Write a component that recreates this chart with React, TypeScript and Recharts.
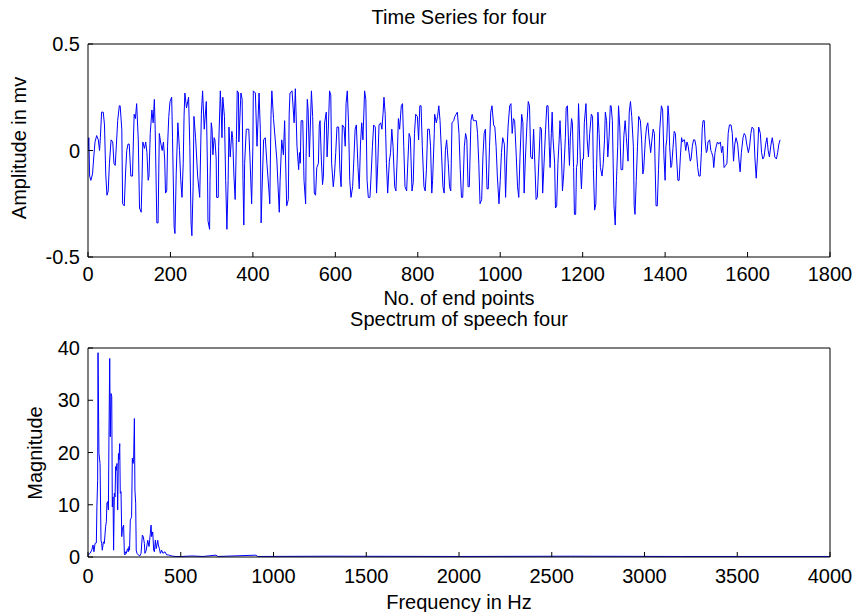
import { LineChart, Line, XAxis, YAxis } from "recharts";

// speech "four": sample index vs amplitude (mv)
const sampleIdx = [
  0, 2, 4, 7, 11, 14, 17, 21, 25, 28, 30, 33, 37, 40, 43, 46, 49, 52, 56, 60, 63, 66, 69, 72, 76, 78, 82, 84, 88, 91,
  94, 97, 100, 104, 108, 110, 112, 115, 118, 122, 125, 129, 131, 133, 137, 140, 143, 146, 148, 151, 155, 158, 161, 163, 167, 170, 173, 176, 180, 183,
  186, 188, 191, 193, 196, 199, 203, 205, 209, 211, 214, 218, 222, 225, 228, 231, 233, 235, 239, 244, 247, 250, 252, 255, 257, 261, 266, 271, 275, 278,
  282, 287, 290, 291, 295, 296, 299, 301, 303, 306, 308, 311, 312, 316, 317, 321, 323, 325, 327, 331, 334, 337, 340, 342, 345, 349, 351, 354, 357, 360,
  362, 365, 366, 371, 374, 376, 378, 380, 384, 390, 393, 397, 400, 401, 406, 410, 415, 418, 420, 422, 426, 430, 434, 439, 441, 444, 446, 450, 458, 464,
  466, 470, 474, 477, 482, 486, 488, 490, 495, 500, 503, 507, 511, 513, 515, 517, 521, 524, 528, 529, 532, 534, 537, 542, 545, 549, 552,
  555, 559, 561, 563, 566, 569, 571, 574, 578, 580, 583, 586, 589, 591, 595, 598, 601, 604, 608, 611, 614, 617, 621, 624, 626, 629, 632, 635, 638, 642,
  645, 648, 651, 655, 658, 661, 664, 667, 671, 674, 677, 680, 684, 687, 690, 693, 697, 700, 703, 706, 710, 713, 716, 718, 721, 724, 727, 731, 734, 737,
  740, 744, 747, 750, 753, 756, 760, 763, 766, 769, 773, 776, 779, 782, 786, 789, 792, 795, 799, 802, 805, 808, 811, 815, 818, 821, 824, 828, 831, 834,
  836, 840, 841, 845, 848, 851, 854, 858, 861, 864, 867, 870, 874, 877, 880, 883, 887, 890, 893, 896, 900, 903, 906, 909, 913, 916, 919, 922, 925, 929,
  932, 935, 938, 942, 945, 948, 951, 955, 958, 961, 964, 968, 971, 974, 977, 980, 984, 987, 990, 993, 997, 1000, 1003, 1006, 1010, 1013, 1016, 1019, 1023, 1026,
  1029, 1032, 1035, 1039, 1042, 1045, 1048, 1052, 1055, 1058, 1061, 1065, 1068, 1071, 1074, 1078, 1081, 1084, 1087, 1090, 1094, 1097, 1100, 1103, 1107, 1110, 1113, 1116,
  1119, 1121, 1124, 1126, 1128, 1132, 1134, 1137, 1140, 1143, 1145, 1148, 1151, 1154, 1158, 1160, 1163, 1166, 1168, 1170, 1173, 1175, 1178, 1180, 1183, 1185, 1187, 1190, 1192, 1195,
  1197, 1200, 1202, 1204, 1208, 1211, 1214, 1217, 1221, 1224, 1226, 1229, 1232, 1234, 1237, 1240, 1243, 1247, 1250, 1253, 1255, 1258, 1261, 1264, 1267, 1269, 1272, 1276, 1279, 1282,
  1285, 1287, 1290, 1293, 1297, 1300, 1303, 1306, 1310, 1313, 1316, 1319, 1323, 1325, 1327, 1330, 1333, 1336, 1340, 1343, 1346, 1348, 1352, 1355, 1358, 1361, 1365, 1368, 1371, 1374,
  1378, 1381, 1384, 1387, 1391, 1394, 1397, 1400,
  1402, 1404, 1407, 1409, 1411, 1414, 1416, 1419, 1422, 1425, 1428, 1431, 1434, 1437, 1440, 1442, 1445, 1447, 1450, 1453, 1456, 1458, 1461, 1463, 1466, 1469, 1472, 1475, 1479, 1482,
  1485, 1488, 1490, 1492, 1495, 1497, 1500, 1502, 1504, 1508, 1511, 1513, 1516, 1518, 1521, 1524, 1527, 1530, 1534, 1537, 1540, 1543, 1547, 1550, 1553, 1556, 1560, 1563, 1566, 1569,
  1572, 1576, 1579, 1582, 1585, 1589, 1592, 1595, 1598, 1602, 1605, 1608, 1611, 1615, 1618, 1621, 1624, 1627, 1631, 1634, 1637, 1640, 1644, 1647, 1650, 1653, 1657, 1660, 1663, 1666,
  1670, 1673, 1676, 1679,
];

const amplitude = [
  0, 0.06, -0.12, -0.14, -0.11, -0.03, 0.04, 0.07, 0.05, 0, 0.06, 0.18, 0.18, 0.12, -0.11, -0.21, -0.19, -0.06, 0.05, 0.04, -0.06, -0.07, 0.03, 0.14, 0.21, 0.21, 0.1, -0.25, -0.26, -0.11,
  0, 0.03, 0.03, -0.12, -0.12, 0.04, 0.17, 0.15, 0.22, 0.05, -0.27, -0.29, -0.14, 0.04, 0.01, 0.04, -0.01, -0.14, -0.12, 0.08, 0.19, 0.13, 0.24, 0.1, -0.34, -0.34, 0.08, 0.04, 0, 0.04,
  -0.04, -0.2, -0.19, 0.02, 0.16, 0.23, 0.25, 0.06, -0.36, -0.39, -0.11, 0.13, 0, -0.14, -0.22, -0.06, 0.16, 0.27, 0.2, 0.25, 0.02, -0.34, -0.4, -0.17, 0.16, 0.06, -0.12, -0.22, 0.17, 0.28,
  0.1, 0.23, -0.11, -0.33, -0.37, -0.14, 0.13, 0.1, -0.02, 0.06, 0.05, -0.04, -0.22, -0.22, 0.02, 0.28, 0.19, 0.06, 0.25, 0.16, -0.14, -0.37, -0.14, 0.11, -0.03, 0.09, 0.06, -0.12, -0.23, 0.05,
  0.28, 0.27, 0.04, 0.27, 0.24, -0.14, -0.35, -0.06, 0.1, 0.1, -0.04, -0.25, 0.02, 0.28, 0.27, 0.02, 0.27, 0.1, -0.34, -0.2, 0.05, 0.06, -0.06, -0.19, -0.25, 0.17, 0.28, 0.15, -0.04, -0.29,
  -0.14, 0.05, -0.02, 0.14, -0.26, -0.23, 0.17, 0.27, 0.28, 0.13, 0.29, 0.02, -0.09, -0.01, -0.06, 0.14, 0.14, -0.14, -0.25, -0.03, 0.24, 0.19, -0.03, 0.28, 0.16, -0.2, -0.21,
  -0.08, -0.06, 0.12, 0.14, -0.04, -0.16, -0.12, 0.13, 0.18, -0.03, 0.1, 0.28, 0.26, -0.06, -0.17, -0.11, -0.01, 0.11, 0.11, -0.09, -0.17, 0.12, 0.11, 0.02, 0.22, 0.28, 0.13, -0.14, -0.22, -0.17,
  -0.04, 0.1, 0.12, -0.08, -0.18, 0.03, 0.13, 0.05, 0.28, 0.24, -0.14, -0.22, -0.22, -0.11, 0.02, 0.12, 0.11, -0.2, -0.06, 0.12, 0.13, 0.1, 0.18, 0.25, 0.17, -0.06, -0.2, -0.05, -0.01, 0.1,
  0.02, -0.17, -0.19, -0.04, 0.15, 0.1, 0.21, 0.22, 0.02, -0.17, -0.19, -0.05, 0.08, 0.06, -0.19, -0.15, 0.08, 0.17, 0.16, 0.05, 0.21, 0.21, 0.02, -0.17, -0.19, -0.09, 0.1, 0.1, 0.02, -0.2,
  -0.14, 0.08, 0.17, 0.13, 0.16, 0.21, 0.14, -0.03, -0.17, -0.2, 0, 0.05, -0.06, -0.17, -0.19, 0.13, 0.14, 0.16, 0.17, 0.18, 0.08, -0.09, -0.22, -0.22, 0.02, 0.08, 0.05, -0.17, -0.17, 0.14,
  0.17, 0.14, 0.14, 0.14, 0.08, -0.06, -0.25, -0.23, -0.03, 0.08, 0.1, -0.18, -0.18, 0.02, 0.18, 0.21, 0.12, 0.11, 0.02, -0.12, -0.25, -0.14, -0.01, 0.06, 0.03, -0.22, -0.03, 0.11, 0.21, 0.22,
  0.08, 0.15, 0.14, -0.03, -0.17, -0.22, -0.03, 0.17, 0.13, -0.2, -0.04, 0.13, 0.23, 0.21, -0.03, -0.04, 0.1, -0.06, -0.23, -0.22, -0.04, 0.11, 0.1, -0.2, -0.03, 0.1, 0.21, 0.21,
  0.02, -0.08, 0.08, 0.18, 0.06, -0.06, -0.27, -0.26, -0.06, 0.05, 0.14, 0.02, -0.19, -0.11, 0.06, 0.2, 0.21, 0.02, -0.07, 0.06, 0.15, 0.13, -0.08, -0.3, -0.3, -0.08, -0.06, 0.22, 0.1, -0.09,
  -0.18, -0.04, -0.04, 0.13, 0.22, 0.05, -0.03, 0.08, 0.17, 0.16, -0.09, -0.28, -0.25, -0.06, 0.18, 0.08, -0.08, -0.12, -0.06, 0.05, 0.18, 0.14, -0.03, 0.06, 0.21, 0.21, 0.14, -0.26, -0.35, -0.14,
  0.02, 0.21, 0.11, -0.09, -0.09, 0.07, 0.14, 0.06, -0.05, 0.18, 0.23, 0.16, 0.02, -0.26, -0.3, -0.14, 0.02, 0.16, 0.14, 0.05, -0.11, -0.09, 0.05, 0.11, 0.13, 0.06, -0.01, 0.05, 0.1, 0.08,
  -0.26, -0.26, -0.09, 0.1, 0.21, 0.19, -0.02, -0.14,
  0.02, 0.05, 0.21, 0.16, 0.02, -0.08, -0.07, 0.01, 0.09, 0.08, -0.04, -0.14, -0.14, -0.03, 0.06, 0.04, 0.05, 0.05, 0, 0.04, 0.02, -0.01, -0.05, -0.04, 0.02, 0.05, 0.05, 0.02, -0.08, -0.12,
  -0.12, -0.01, 0.1, 0.14, 0.14, 0.05, -0.01, 0, 0.04, 0.05, 0, -0.01, -0.03, -0.08, -0.01, 0.02, 0.04, 0.03, 0.04, -0.01, 0.02, -0.08, -0.07, -0.06, 0.08, 0.12, 0.12, 0.08, -0.05, 0.03,
  0.06, 0.03, -0.04, -0.1, -0.01, 0.06, 0.08, 0.07, 0.03, -0.01, 0.02, 0.08, 0.11, 0.1, -0.04, -0.13, -0.03, 0.11, 0.08, -0.01, -0.04, -0.03, 0.03, 0.06, 0, -0.03, 0.03, 0.06, 0.02, -0.03,
  -0.04, -0.01, 0.03, 0.05,
];

// spectrum of the same utterance (Hz vs magnitude)
const freqHz = [
  0, 2, 11, 20, 27, 32, 38, 45, 48, 52, 54, 59, 65, 70, 74, 77, 83, 88, 95, 99, 102, 106, 110, 113, 117, 120, 124, 128, 131, 135,
  138, 142, 146, 149, 153, 156, 160, 164, 167, 171, 174, 178, 182, 185, 189, 192, 196, 199, 203, 207, 210, 214, 217, 221, 224, 228, 232, 235, 239, 243,
  246, 250, 253, 257, 260, 264, 271, 279, 286, 293, 298, 304, 307, 314, 322, 329, 336, 340, 343, 349, 354, 358, 363, 368, 376, 379, 385, 390, 397, 404,
  415, 424, 433, 451, 469, 505, 560, 620, 690, 700, 905, 915, 1300, 2000, 2600, 3200, 4000,
];

const magnitude = [
  0.3, 0.4, 0.7, 1.3, 2.3, 1.0, 2.6, 2.7, 9.6, 14.7, 39.1, 19.8, 17.9, 3.2, 2.6, 1.3, 2.9, 2.6, 5.8, 6.8, 10.3, 10.6, 9.0, 23.0, 38.0, 23.0, 31.3, 30.7, 9.6, 11.5,
  1.3, 12.2, 11.5, 17.3, 16.6, 17.9, 9.0, 19.8, 18.6, 21.7, 12.2, 12.5, 3.9, 5.2, 5.8, 6.1, 0.7, 0.4, 1.0, 0.7, 1.3, 1.6, 1.0, 2.0, 1.3, 7.1, 7.4, 7.7, 18.9, 17.9,
  18.6, 26.5, 12.8, 10.3, 1.3, 0.7, 0.4, 0.2, 0.7, 4.2, 3.9, 2.6, 0.7, 1.3, 3.2, 2.0, 4.5, 6.1, 3.9, 4.8, 1.3, 1.0, 3.2, 1.6, 3.2, 2.3, 1.6, 0.7, 1.3, 0.7,
  1.0, 0.4, 0.4, 0.2, 0.1, 0.1, 0.2, 0.1, 0.35, 0.1, 0.35, 0.1, 0.15, 0.1, 0.15, 0.1, 0.1,
];

const ampTicks = [-0.5, 0, 0.5];
const sampleTicks = [0, 200, 400, 600, 800, 1000, 1200, 1400, 1600, 1800];
const magTicks = [0, 10, 20, 30, 40];
const freqTicks = [0, 500, 1000, 1500, 2000, 2500, 3000, 3500, 4000];

const timeData = sampleIdx.map((n, i) => ({ n, v: amplitude[i] }));
const specData = freqHz.map((f, i) => ({ f, m: magnitude[i] }));

const FONT = '"Liberation Sans", Arial, Helvetica, sans-serif';
const tickStyle = { fontSize: 20, fill: "#000", fontFamily: FONT };
const axisLine = { stroke: "#000", strokeWidth: 1 };
const tickLine = { stroke: "#000", strokeWidth: 1 };

type PanelProps = {
  data: Record<string, number>[];
  xKey: string;
  yKey: string;
  xMax: number;
  xTicks: number[];
  yDomain: [number, number];
  yTicks: number[];
  top: number;
  height: number;
  marginTop: number;
  marginBottom: number;
  xTickGap: number;
};

// matlab style subplot: boxed axes, ticks pointing inwards
function Panel(p: PanelProps) {
  return (
    <div style={{ position: "absolute", left: 0, top: p.top }}>
      <LineChart
        width={854}
        height={p.height}
        data={p.data}
        margin={{ top: p.marginTop - 1, right: 23, bottom: p.marginBottom - 30, left: 0 }}
      >
        <XAxis
          xAxisId="b"
          dataKey={p.xKey}
          type="number"
          domain={[0, p.xMax]}
          ticks={p.xTicks}
          interval={0}
          allowDataOverflow
          height={30}
          tickSize={-5}
          tickMargin={p.xTickGap}
          tick={tickStyle}
          axisLine={axisLine}
          tickLine={tickLine}
        />
        <XAxis
          xAxisId="t"
          orientation="top"
          dataKey={p.xKey}
          type="number"
          domain={[0, p.xMax]}
          ticks={p.xTicks}
          interval={0}
          allowDataOverflow
          height={1}
          tickSize={-5}
          tick={false}
          axisLine={axisLine}
          tickLine={tickLine}
        />
        <YAxis
          yAxisId="l"
          type="number"
          domain={p.yDomain}
          ticks={p.yTicks}
          interval={0}
          allowDataOverflow
          width={88}
          tickSize={-5}
          tickMargin={13}
          tick={tickStyle}
          axisLine={axisLine}
          tickLine={tickLine}
        />
        <YAxis
          yAxisId="r"
          orientation="right"
          type="number"
          domain={p.yDomain}
          ticks={p.yTicks}
          interval={0}
          allowDataOverflow
          width={1}
          tickSize={-5}
          tick={false}
          axisLine={axisLine}
          tickLine={tickLine}
        />
        <Line
          xAxisId="b"
          yAxisId="l"
          type="linear"
          dataKey={p.yKey}
          stroke="#0000ff"
          strokeWidth={1}
          dot={false}
          activeDot={false}
          isAnimationActive={false}
        />
      </LineChart>
    </div>
  );
}

export default function App() {
  const txt = { fontFamily: FONT, fontSize: 20, fill: "#000" };
  return (
    <div style={{ position: "absolute", left: 0, top: 0, width: 854, height: 612, background: "#fff" }}>
      <Panel
        data={timeData}
        xKey="n"
        yKey="v"
        xMax={1800}
        xTicks={sampleTicks}
        yDomain={[-0.5, 0.5]}
        yTicks={ampTicks}
        top={0}
        height={310}
        marginTop={44}
        marginBottom={53}
        xTickGap={15}
      />
      <Panel
        data={specData}
        xKey="f"
        yKey="m"
        xMax={4000}
        xTicks={freqTicks}
        yDomain={[0, 40]}
        yTicks={magTicks}
        top={300}
        height={312}
        marginTop={48}
        marginBottom={55}
        xTickGap={17}
      />
      <svg
        width={854}
        height={612}
        style={{ position: "absolute", left: 0, top: 0, pointerEvents: "none" }}
      >
        <text x={459} y={24} textAnchor="middle" {...txt}>Time Series for four</text>
        <text x={459} y={305} textAnchor="middle" {...txt}>No. of end points</text>
        <text x={459} y={326} textAnchor="middle" {...txt}>Spectrum of speech four</text>
        <text x={459} y={609} textAnchor="middle" {...txt}>Frequency in Hz</text>
        <text x={26} y={148} textAnchor="middle" transform="rotate(-90 26 148)" {...txt}>Amplitude in mv</text>
        <text x={42} y={453} textAnchor="middle" transform="rotate(-90 42 453)" {...txt}>Magnitude</text>
      </svg>
    </div>
  );
}
